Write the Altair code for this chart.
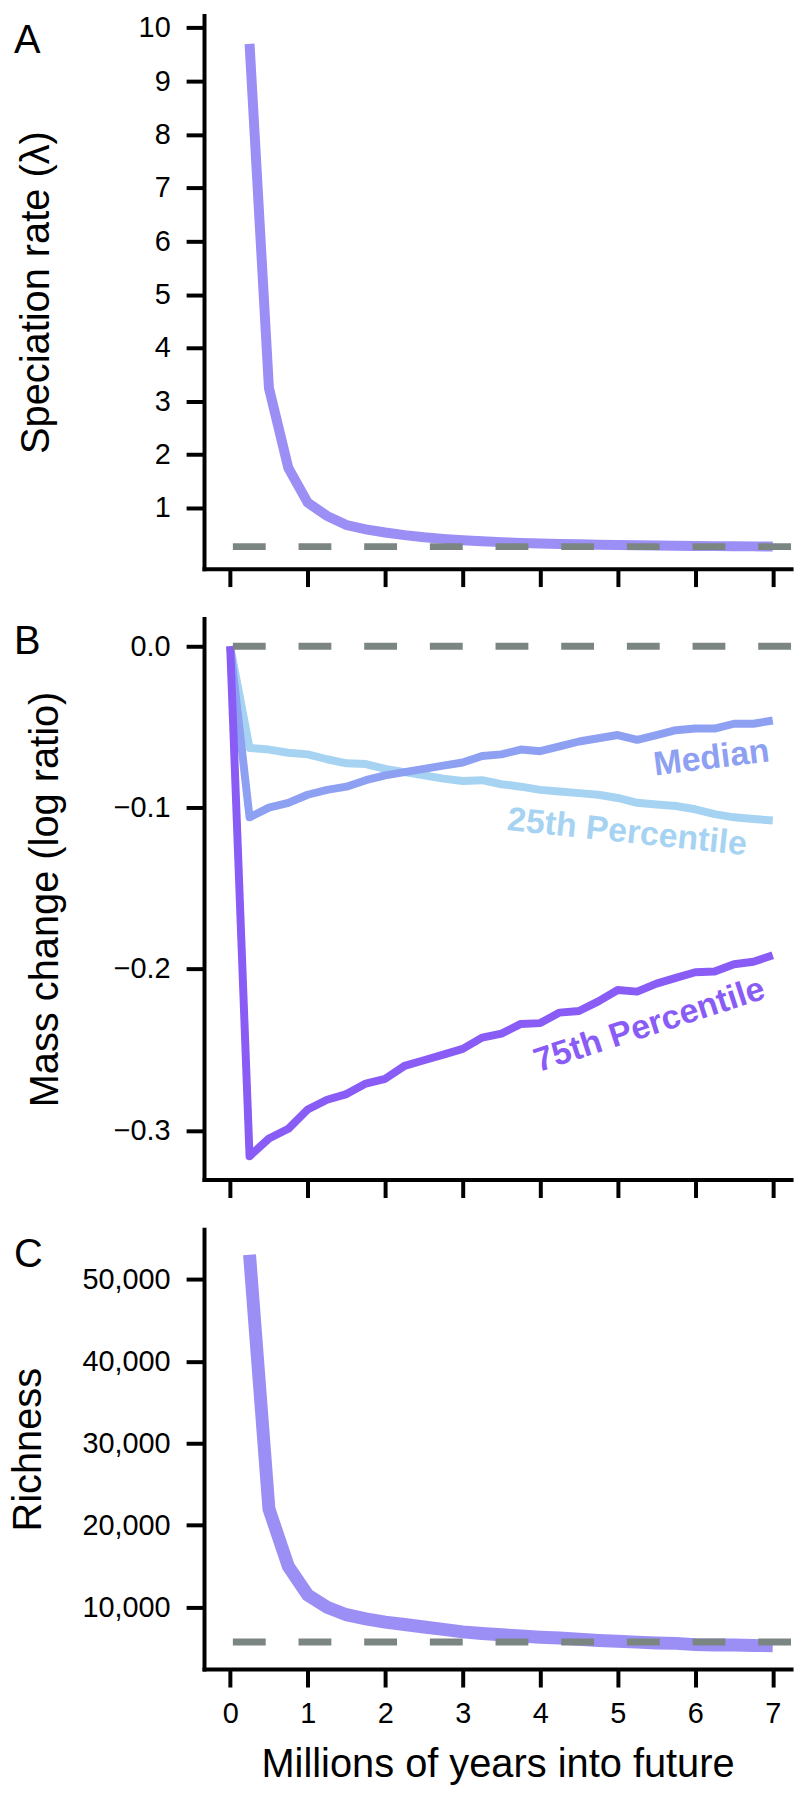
import altair as alt
import pandas as pd

FONT = "Liberation Sans, Arial, Helvetica, sans-serif"

# ---------------- data ----------------
years = [0.25, 0.5, 0.75, 1.0, 1.25, 1.5, 1.75, 2.0, 2.25, 2.5, 2.75, 3.0, 3.25, 3.5,
         3.75, 4.0, 4.25, 4.5, 4.75, 5.0, 5.25, 5.5, 5.75, 6.0, 6.25, 6.5, 6.75, 7.0]
years_b = [0.0, 0.25, 0.5, 0.75, 1.0, 1.25, 1.5, 1.75, 2.0, 2.25, 2.5, 2.75, 3.0, 3.25, 3.5,
           3.75, 4.0, 4.25, 4.5, 4.75, 5.0, 5.25, 5.5, 5.75, 6.0, 6.25, 6.5, 6.75, 7.0]

speciation = [9.7, 3.25, 1.75, 1.1, 0.85, 0.68, 0.6, 0.54, 0.49, 0.45, 0.42, 0.395, 0.375, 0.36,
              0.345, 0.335, 0.325, 0.318, 0.31, 0.305, 0.3, 0.295, 0.29, 0.288, 0.285, 0.283, 0.28, 0.278]

median = [0.0, -0.106, -0.100, -0.097, -0.092, -0.089, -0.087, -0.083, -0.080, -0.078, -0.076,
          -0.074, -0.072, -0.068, -0.067, -0.064, -0.065, -0.062, -0.059, -0.057, -0.055, -0.058,
          -0.055, -0.052, -0.051, -0.051, -0.048, -0.048, -0.046]
pct25 = [0.0, -0.063, -0.064, -0.066, -0.067, -0.070, -0.0725, -0.073, -0.076, -0.078, -0.080,
         -0.082, -0.0835, -0.083, -0.0855, -0.087, -0.089, -0.090, -0.091, -0.092, -0.094, -0.097,
         -0.098, -0.099, -0.101, -0.104, -0.106, -0.107, -0.108]
pct75 = [0.0, -0.316, -0.305, -0.299, -0.287, -0.281, -0.2775, -0.271, -0.268, -0.260, -0.2565,
         -0.253, -0.2495, -0.2425, -0.240, -0.234, -0.2335, -0.227, -0.226, -0.220, -0.213, -0.214,
         -0.209, -0.2055, -0.202, -0.2015, -0.197, -0.1955, -0.1915]

richness = [53000, 22000, 15000, 11500, 10000, 9100, 8600, 8200, 7900, 7600, 7300, 7000, 6800,
            6650, 6500, 6350, 6250, 6100, 5950, 5850, 5750, 5650, 5600, 5450, 5400, 5400, 5350, 5300]

ref_a = [0.275]
ref_b = [0.0]
ref_c = [5760]

label_text = ["Median", "25th Percentile", "75th Percentile"]
label_t = [6.21, 5.12, 5.41]
label_v = [-0.0695, -0.1155, -0.235]
label_angle = [353, 6, 342]
label_color = ["#8ea0f1", "#a6d3f2", "#8a5cf6"]

panel_letters = ["A", "B", "C"]
x_ticks = [0, 1, 2, 3, 4, 5, 6, 7]
ticks_a = [1, 2, 3, 4, 5, 6, 7, 8, 9, 10]
ticks_b = [0.0, -0.1, -0.2, -0.3]
ticks_c = [10000, 20000, 30000, 40000, 50000]

LINE_A = "#9b8ef5"
DASH = "#7b8683"

# ---------------- scales & axes ----------------
x_scale = alt.Scale(domain=[-0.3376, 7.236], nice=False, zero=False)
ys_a = alt.Scale(domain=[-0.138, 10.233], nice=False, zero=False)
ys_b = alt.Scale(domain=[-0.33046, 0.01726], nice=False, zero=False)
ys_c = alt.Scale(domain=[2460, 56100], nice=False, zero=False)

x_axis_plain = alt.Axis(values=x_ticks, labels=False, title=None)
x_axis_lab = alt.Axis(values=x_ticks, format="d", title="Millions of years into future",
                      titleY=108, titleBaseline="alphabetic", labelPadding=13, labelFlush=False)

ax_a = alt.Axis(values=ticks_a, format="d", title="Speciation rate (λ)", titleX=-156,
                titleAngle=270, titleBaseline="alphabetic")
ax_b = alt.Axis(values=ticks_b, format=".1f", title="Mass change (log ratio)", titleX=-147,
                titleAngle=270, titleBaseline="alphabetic")
ax_c = alt.Axis(values=ticks_c, format=",d", title="Richness", titleX=-164,
                titleAngle=270, titleBaseline="alphabetic")


def letter(ch, ybase):
    return alt.Chart(pd.DataFrame({"letter": [ch]})).mark_text(
        align="left", baseline="alphabetic", fontSize=40, font=FONT, color="black"
    ).encode(text="letter:N", x=alt.value(-191), y=alt.value(ybase))


# ---------------- panel A ----------------
df_a = pd.DataFrame({"t": years, "y": speciation})
line_a = alt.Chart(df_a).mark_line(color=LINE_A, strokeWidth=10, strokeCap="butt").encode(
    x=alt.X("t:Q", scale=x_scale, axis=x_axis_plain),
    y=alt.Y("y:Q", scale=ys_a, axis=ax_a),
)
rule_a = alt.Chart(pd.DataFrame({"y": ref_a})).mark_rule(
    color=DASH, strokeWidth=7, strokeDash=[33, 33]
).encode(y=alt.Y("y:Q", scale=ys_a, axis=ax_a))
panel_a = alt.layer(line_a, rule_a, letter(panel_letters[0], 38)).properties(width=590, height=556)

# ---------------- panel B ----------------
def b_line(values, color):
    df = pd.DataFrame({"t": years_b, "y": values})
    return alt.Chart(df).mark_line(color=color, strokeWidth=8, strokeJoin="round").encode(
        x=alt.X("t:Q", scale=x_scale, axis=x_axis_plain),
        y=alt.Y("y:Q", scale=ys_b, axis=ax_b),
    )

lines_b = [b_line(pct25, label_color[1]), b_line(median, label_color[0]), b_line(pct75, label_color[2])]
rule_b = alt.Chart(pd.DataFrame({"y": ref_b})).mark_rule(
    color=DASH, strokeWidth=7, strokeDash=[33, 33]
).encode(y=alt.Y("y:Q", scale=ys_b, axis=ax_b))

texts_b = []
for i in range(3):
    dfl = pd.DataFrame({"t": [label_t[i]], "y": [label_v[i]], "lab": [label_text[i]]})
    texts_b.append(
        alt.Chart(dfl).mark_text(
            font=FONT, fontSize=34, fontWeight="bold", color=label_color[i],
            angle=label_angle[i], align="center", baseline="middle"
        ).encode(
            x=alt.X("t:Q", scale=x_scale, axis=x_axis_plain),
            y=alt.Y("y:Q", scale=ys_b, axis=ax_b),
            text="lab:N",
        )
    )

panel_b = alt.layer(*lines_b, rule_b, *texts_b, letter(panel_letters[1], 36)).properties(
    width=590, height=564)

# ---------------- panel C ----------------
df_c = pd.DataFrame({"t": years, "y": richness})
line_c = alt.Chart(df_c).mark_line(color=LINE_A, strokeWidth=13, strokeCap="butt").encode(
    x=alt.X("t:Q", scale=x_scale, axis=x_axis_lab),
    y=alt.Y("y:Q", scale=ys_c, axis=ax_c),
)
rule_c = alt.Chart(pd.DataFrame({"y": ref_c})).mark_rule(
    color=DASH, strokeWidth=7, strokeDash=[33, 33]
).encode(y=alt.Y("y:Q", scale=ys_c, axis=ax_c))
panel_c = alt.layer(line_c, rule_c, letter(panel_letters[2], 38)).properties(width=590, height=442)

chart = alt.vconcat(panel_a, panel_b, panel_c, spacing=28).properties(
    padding=0, background="white"
).configure_axis(
    domainColor="black", domainWidth=4, domainCap="square",
    tickColor="black", tickWidth=4, tickSize=18,
    labelFont=FONT, labelFontSize=29, labelColor="black", labelPadding=16,
    titleFont=FONT, titleFontSize=40, titleFontWeight="normal", titleColor="black",
    grid=False,
).configure_view(stroke="transparent")

chart.save("out.html", embed_options={"renderer": "svg", "actions": False})
